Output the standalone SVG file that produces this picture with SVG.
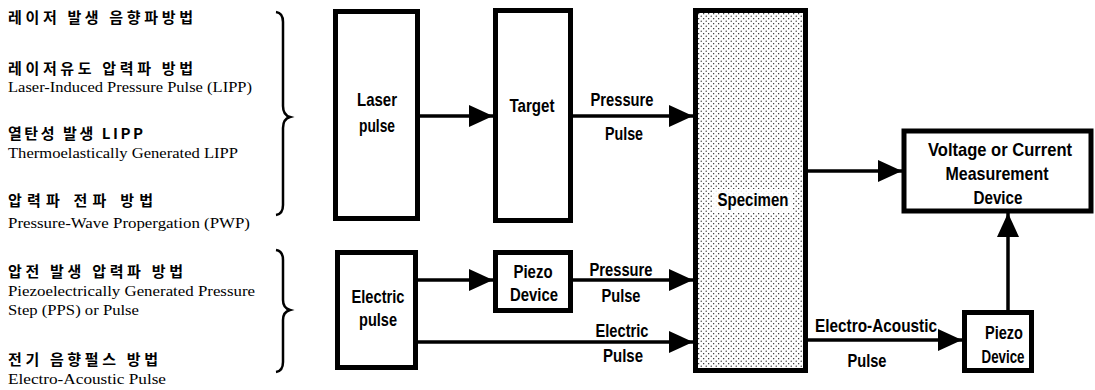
<svg xmlns="http://www.w3.org/2000/svg" width="1095" height="390" viewBox="0 0 1095 390">
<style>
.kr{font-family:"Noto Sans CJK KR","Noto Sans",sans-serif;font-weight:bold;font-size:15px;fill:#000}
.en{font-family:"Liberation Serif","Times New Roman",serif;font-size:15.5px;fill:#000}
.lb{font-family:"Liberation Sans",Arial,sans-serif;font-weight:bold;font-size:19px;fill:#000;text-anchor:middle}
.box{fill:#fff;stroke:#000;stroke-width:5}
.brace{fill:none;stroke:#000;stroke-width:2.5}
.arr{fill:none;stroke:#000;stroke-width:3.5;marker-end:url(#ah)}
</style>
<defs>
<marker id="ah" markerUnits="userSpaceOnUse" markerWidth="24" markerHeight="22" refX="24" refY="11" orient="auto">
<path d="M0,0 L24,11 L0,22 z" fill="#000"/>
</marker>
<pattern id="dots" patternUnits="userSpaceOnUse" width="5" height="5">
<rect width="5" height="5" fill="#fff"/>
<circle cx="1.2" cy="1.2" r="0.6" fill="#000"/>
<circle cx="3.7" cy="3.7" r="0.6" fill="#000"/>
</pattern>
</defs>
<rect width="1095" height="390" fill="#fff"/>

<g id="legend">
<text class="kr" x="8" y="23" textLength="185" lengthAdjust="spacing">레이저 발생 음향파방법</text>
<text class="kr" x="8" y="74" textLength="185" lengthAdjust="spacing">레이저유도 압력파 방법</text>
<text class="en" x="8" y="92" textLength="244" lengthAdjust="spacingAndGlyphs">Laser-Induced Pressure Pulse (LIPP)</text>
<text class="kr" x="8" y="139" textLength="135" lengthAdjust="spacing">열탄성 발생 LIPP</text>
<text class="en" x="8" y="158" textLength="230" lengthAdjust="spacingAndGlyphs">Thermoelastically Generated LIPP</text>
<text class="kr" x="8" y="206" textLength="145" lengthAdjust="spacing">압력파 전파 방법</text>
<text class="en" x="8" y="228" textLength="242" lengthAdjust="spacingAndGlyphs">Pressure-Wave Propergation (PWP)</text>
<text class="kr" x="8" y="277" textLength="175" lengthAdjust="spacing">압전 발생 압력파 방법</text>
<text class="en" x="8" y="296" textLength="247" lengthAdjust="spacingAndGlyphs">Piezoelectrically Generated Pressure</text>
<text class="en" x="8" y="315" textLength="131" lengthAdjust="spacingAndGlyphs">Step (PPS) or Pulse</text>
<text class="kr" x="8" y="365" textLength="150" lengthAdjust="spacing">전기 음향펄스 방법</text>
<text class="en" x="8" y="384" textLength="158" lengthAdjust="spacingAndGlyphs">Electro-Acoustic  Pulse</text>
<path class="brace" d="M276,12 Q283,13 283,22 L283,106 Q283,115 290,117 Q283,119 283,128 L283,205 Q283,214 276,215"/>
<path class="brace" d="M276,250 Q283,251 283,260 L283,300 Q283,308 290,310 Q283,312 283,320 L283,362 Q283,371 276,372"/>
</g>

<g id="connectors">
<line class="arr" x1="420" y1="116" x2="493" y2="116"/>
<line class="arr" x1="572" y1="116" x2="693" y2="116"/>
<line class="arr" x1="418" y1="280" x2="493" y2="280"/>
<line class="arr" x1="573" y1="280" x2="693" y2="280"/>
<line class="arr" x1="418" y1="342" x2="693" y2="342"/>
<line class="arr" x1="808" y1="171" x2="902" y2="171"/>
<line class="arr" x1="808" y1="340" x2="962" y2="340"/>
<line class="arr" x1="1008" y1="310" x2="1008" y2="213"/>
<text class="lb" x="622" y="106" textLength="63" lengthAdjust="spacingAndGlyphs">Pressure</text>
<text class="lb" x="624" y="140" textLength="38" lengthAdjust="spacingAndGlyphs">Pulse</text>
<text class="lb" x="621" y="276" textLength="63" lengthAdjust="spacingAndGlyphs">Pressure</text>
<text class="lb" x="621" y="302" textLength="39" lengthAdjust="spacingAndGlyphs">Pulse</text>
<text class="lb" x="622" y="337" textLength="53" lengthAdjust="spacingAndGlyphs">Electric</text>
<text class="lb" x="623" y="362" textLength="40" lengthAdjust="spacingAndGlyphs">Pulse</text>
<text class="lb" x="876" y="332" textLength="122" lengthAdjust="spacingAndGlyphs">Electro-Acoustic</text>
<text class="lb" x="867" y="367" textLength="39" lengthAdjust="spacingAndGlyphs">Pulse</text>
</g>

<g id="laser">
<rect class="box" x="335.5" y="11.5" width="82" height="207"/>
<text class="lb" x="377" y="106" textLength="40" lengthAdjust="spacingAndGlyphs">Laser</text>
<text class="lb" x="377" y="132" textLength="36" lengthAdjust="spacingAndGlyphs">pulse</text>
</g>
<g id="target">
<rect class="box" x="495.5" y="10.5" width="75" height="210"/>
<text class="lb" x="532" y="112" textLength="45" lengthAdjust="spacingAndGlyphs">Target</text>
</g>
<g id="specimen">
<rect x="695.5" y="10.5" width="110" height="360" fill="url(#dots)" stroke="#000" stroke-width="5"/>
<rect x="713" y="189" width="80" height="24" fill="#fff" opacity="0.85"/>
<text class="lb" x="753" y="206" textLength="71" lengthAdjust="spacingAndGlyphs">Specimen</text>
</g>
<g id="measurement">
<rect class="box" x="904" y="131" width="187" height="80"/>
<text class="lb" x="1000" y="156" textLength="144" lengthAdjust="spacingAndGlyphs">Voltage or Current</text>
<text class="lb" x="997" y="180" textLength="103" lengthAdjust="spacingAndGlyphs">Measurement</text>
<text class="lb" x="998" y="204" textLength="49" lengthAdjust="spacingAndGlyphs">Device</text>
</g>
<g id="electric">
<rect class="box" x="337.5" y="252.5" width="78" height="115"/>
<text class="lb" x="378" y="303" textLength="53" lengthAdjust="spacingAndGlyphs">Electric</text>
<text class="lb" x="378" y="326" textLength="38" lengthAdjust="spacingAndGlyphs">pulse</text>
</g>
<g id="piezo1">
<rect class="box" x="495.5" y="252.5" width="75" height="58"/>
<text class="lb" x="533" y="278" textLength="39" lengthAdjust="spacingAndGlyphs">Piezo</text>
<text class="lb" x="534" y="301" textLength="48" lengthAdjust="spacingAndGlyphs">Device</text>
</g>
<g id="piezo2">
<rect class="box" x="964.5" y="312.5" width="67" height="58"/>
<text class="lb" x="1004" y="339" textLength="38" lengthAdjust="spacingAndGlyphs">Piezo</text>
<text class="lb" x="1003" y="363" textLength="43" lengthAdjust="spacingAndGlyphs">Device</text>
</g>
</svg>
